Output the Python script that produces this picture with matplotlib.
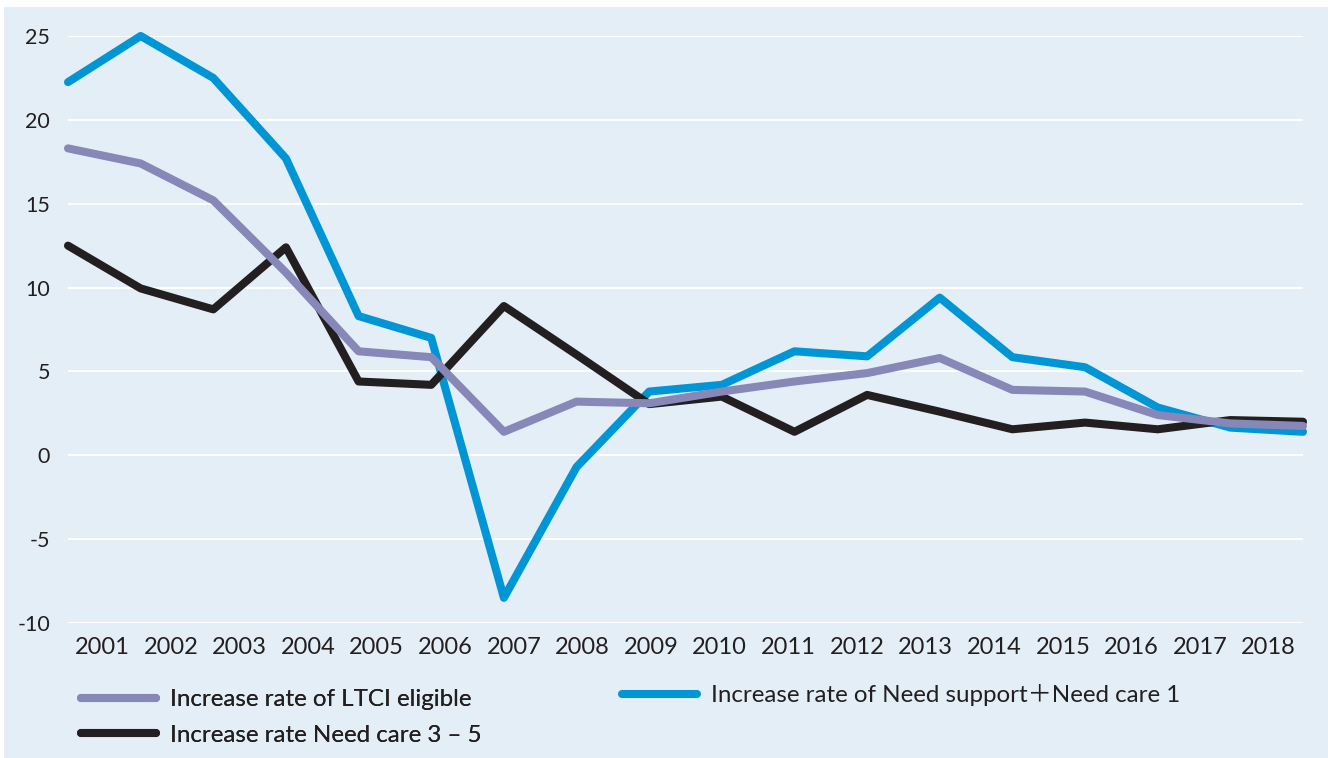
import numpy as np
import matplotlib.pyplot as plt
from matplotlib.patches import Rectangle

plt.rcParams['font.family'] = ['Lato', 'Noto Sans CJK JP', 'DejaVu Sans']
plt.rcParams['axes.unicode_minus'] = False

years = [str(y) for y in range(2001, 2019)]

# Year-on-year increase rates (%)
ltci_eligible = [18.3, 17.4, 15.2, 10.9, 6.2, 5.85, 1.4, 3.2, 3.1, 3.8,
                 4.4, 4.9, 5.8, 3.9, 3.8, 2.4, 1.9, 1.75]
need_support_care1 = [22.25, 25.0, 22.5, 17.7, 8.3, 7.0, -8.5, -0.7, 3.8, 4.2,
                      6.2, 5.9, 9.4, 5.85, 5.25, 2.85, 1.65, 1.4]
need_care_3_5 = [12.5, 9.95, 8.7, 12.4, 4.4, 4.2, 8.9, 6.0, 3.05, 3.5,
                 1.4, 3.6, 2.6, 1.55, 1.95, 1.55, 2.1, 2.0]

y_ticks = [-10, -5, 0, 5, 10, 15, 20, 25]

label_ltci = 'Increase rate of LTCI eligible'
label_care35 = 'Increase rate Need care 3 – 5'
label_support = 'Increase rate of Need support＋Need care 1'

BG = '#E3EEF7'
TXT = '#231F20'
C_PURPLE = '#8787B8'
C_BLUE = '#0096D6'
C_BLACK = '#231F20'

W, H = 1328, 758
fig = plt.figure(figsize=(W / 100, H / 100), dpi=100)
fig.patch.set_facecolor('white')
fig.patches.append(Rectangle((4 / W, 0), 1, (H - 7) / H, transform=fig.transFigure,
                             facecolor=BG, edgecolor='none', zorder=-10))

ax = fig.add_axes([68 / W, (H - 623) / H, 1235 / W, 587 / H])
ax.patch.set_visible(False)
x = np.arange(len(years))
ax.set_xlim(0, len(years) - 1)
ax.set_ylim(-10, 25)

lw = 5.8
l_blue, = ax.plot(x, need_support_care1, color=C_BLUE, lw=lw, solid_capstyle='round',
                  clip_on=False, zorder=2, label=label_support)
l_black, = ax.plot(x, need_care_3_5, color=C_BLACK, lw=lw, solid_capstyle='round',
                   clip_on=False, zorder=3, label=label_care35)
l_purple, = ax.plot(x, ltci_eligible, color=C_PURPLE, lw=lw, solid_capstyle='round',
                    clip_on=False, zorder=4, label=label_ltci)

ax.set_yticks(y_ticks)
ax.set_yticklabels([str(v) for v in y_ticks])
ax.yaxis.grid(True, color='white', lw=1.4)
ax.set_axisbelow(True)
ax.tick_params(axis='y', length=0, pad=13, labelsize=15.5, labelcolor=TXT)
ax.set_xticks([])
for s in ax.spines.values():
    s.set_visible(False)

# year labels sit on their own category scale
ax2 = ax.twiny()
ax2.set_xlim(-0.5, len(years) - 0.5)
ax2.set_xticks(x)
ax2.set_xticklabels(years)
ax2.xaxis.set_ticks_position('bottom')
ax2.xaxis.set_label_position('bottom')
ax2.tick_params(axis='x', length=0, pad=10, labelsize=17, labelcolor=TXT)
for s in ax2.spines.values():
    s.set_visible(False)

leg_kw = dict(loc='upper left', frameon=False, fontsize=17.4, handlelength=3.1,
              handletextpad=0.6, borderpad=0, borderaxespad=0, labelcolor=TXT)
leg1 = fig.legend(handles=[l_purple, l_black], bbox_to_anchor=(81 / W, (H - 689) / H),
                  labelspacing=0.6, **leg_kw)
fig.add_artist(leg1)
fig.legend(handles=[l_blue], bbox_to_anchor=(622 / W, (H - 684) / H), **leg_kw)

fig.savefig('out.png', dpi=100)
